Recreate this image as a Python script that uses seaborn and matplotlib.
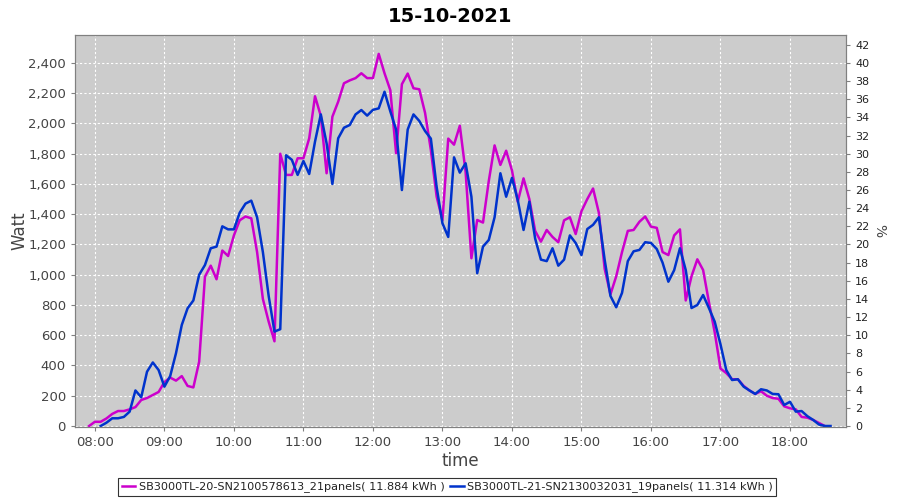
import pandas as pd
import numpy as np
import matplotlib
matplotlib.use('Agg')
import matplotlib.pyplot as plt
import matplotlib.dates as mdates
from matplotlib.ticker import FuncFormatter, MultipleLocator
import seaborn as sns

# Veriler (5 dakikalik olcumler, 07:55 - 18:35)
start_time = '2021-10-15 07:55'
n_points = 129
series_names = ['SB3000TL-20-SN2100578613_21panels( 11.884 kWh )',
                'SB3000TL-21-SN2130032031_19panels( 11.314 kWh )']
series_colors = ['#cc00cc', '#0033cc']

watt_sn20 = [
    0, 28, 28, 50, 80, 99, 99, 110, 125, 172, 185, 205,
    225, 290, 320, 300, 330, 265, 255, 425, 987, 1060, 970, 1160,
    1124, 1260, 1360, 1385, 1373, 1150, 840, 690, 560, 1800, 1660, 1660,
    1770, 1770, 1902, 2180, 2050, 1671, 2045, 2144, 2266, 2285, 2300, 2332,
    2300, 2300, 2460, 2332, 2220, 1803, 2260, 2330, 2233, 2226, 2070, 1825,
    1516, 1360, 1900, 1860, 1985, 1680, 1109, 1362, 1345, 1620, 1855, 1726,
    1820, 1690, 1483, 1637, 1500, 1290, 1219, 1296, 1250, 1215, 1360, 1380,
    1269, 1420, 1500, 1570, 1410, 1040, 870, 990, 1150, 1290, 1296, 1350,
    1385, 1318, 1310, 1150, 1130, 1260, 1300, 830, 990, 1102, 1031, 820,
    620, 380, 350, 309, 309, 265, 235, 212, 230, 200, 185, 180,
    130, 117, 110, 60, 55, 40, 20, 0, np.nan,
]
watt_sn21 = [
    np.nan, np.nan, 0, 22, 51, 51, 60, 95, 235, 190, 359, 420,
    370, 260, 330, 481, 668, 778, 830, 1000, 1064, 1175, 1186, 1320,
    1300, 1300, 1410, 1470, 1490, 1380, 1150, 860, 624, 640, 1790, 1760,
    1660, 1752, 1666, 1880, 2060, 1869, 1600, 1902, 1972, 1990, 2060, 2089,
    2052, 2090, 2100, 2210, 2080, 1960, 1560, 1960, 2060, 2017, 1950, 1900,
    1580, 1340, 1250, 1776, 1675, 1737, 1516, 1010, 1186, 1230, 1380, 1671,
    1516, 1640, 1494, 1296, 1483, 1240, 1100, 1090, 1175, 1060, 1100, 1260,
    1210, 1130, 1302, 1330, 1380, 1100, 860, 785, 880, 1090, 1155, 1164,
    1215, 1210, 1170, 1080, 954, 1030, 1175, 1031, 780, 800, 866, 780,
    690, 540, 370, 304, 309, 260, 235, 212, 243, 235, 212, 210,
    139, 160, 95, 99, 65, 40, 10, 0, 0,
]

times = pd.date_range(start_time, periods=n_points, freq='5min')
df = pd.DataFrame({'time': times, series_names[0]: watt_sn20, series_names[1]: watt_sn21})
df_long = df.melt(id_vars='time', var_name='inverter', value_name='watt')

# Gorsel ayarlar
plt.rcParams['font.family'] = ['DejaVu Sans']
fig = plt.figure(figsize=(9, 5), dpi=100)
ax = fig.add_axes([75 / 900, 1 - 427 / 500, 771 / 900, 392 / 500])
ax.set_facecolor('#cccccc')

sns.lineplot(data=df_long, x='time', y='watt', hue='inverter',
             palette=dict(zip(series_names, series_colors)),
             linewidth=1.8, ax=ax, legend=False)

ax.set_xlim(pd.Timestamp('2021-10-15 07:42:50'), pd.Timestamp('2021-10-15 18:48:20'))
ax.set_ylim(-6.6, 2585)
ax.yaxis.set_major_locator(MultipleLocator(200))
ax.yaxis.set_major_formatter(FuncFormatter(lambda v, p: f'{int(v):,}'))
ax.xaxis.set_major_locator(mdates.HourLocator())
ax.xaxis.set_major_formatter(mdates.DateFormatter('%H:%M'))
ax.grid(True, color='white', linestyle=(0, (2, 2)), linewidth=0.8)
ax.set_axisbelow(True)

for s in ax.spines.values():
    s.set_color('#808080')
ax.tick_params(colors='#808080', labelcolor='#444444', labelsize=9.5, length=3)
ax.set_xlabel('time', fontsize=12, color='#444444', labelpad=2)
ax.set_ylabel('Watt', fontsize=12, color='#444444')
ax.yaxis.set_label_coords(-0.06, 0.5)

# Sag eksen (%)
ax2 = ax.twinx()
ax2.set_ylim(-6.6 / 60, 2585 / 60)
ax2.yaxis.set_major_locator(MultipleLocator(2))
ax2.tick_params(colors='#808080', labelcolor='#222222', labelsize=8, length=3)
ax2.set_ylabel('%', fontsize=10, color='#444444', rotation=270, labelpad=12)
for s in ax2.spines.values():
    s.set_color('#808080')

fig.suptitle('15-10-2021', fontsize=14, fontweight='bold', y=0.985)

handles = [plt.Line2D([], [], color=c, linewidth=1.8) for c in series_colors]
leg = fig.legend(handles, series_names, loc='center', bbox_to_anchor=(0.497, 0.026),
                 ncol=2, fontsize=8.1, frameon=True, fancybox=False,
                 handlelength=1.2, handletextpad=0.3, columnspacing=0.5,
                 borderpad=0.3, labelcolor='#222222')
leg.get_frame().set_edgecolor('black')
leg.get_frame().set_linewidth(0.8)

fig.savefig('out.png', dpi=100)
